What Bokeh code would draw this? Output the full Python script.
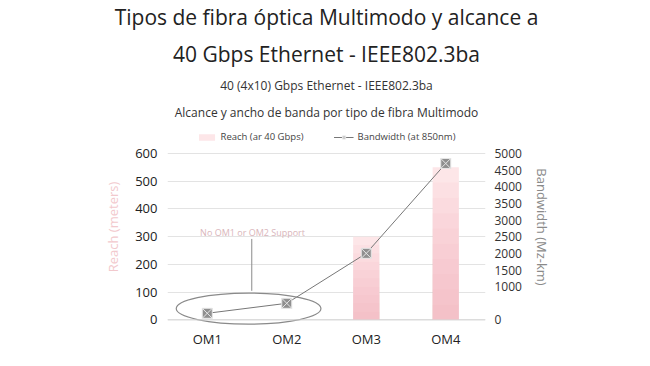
from bokeh.plotting import figure
from bokeh.models import (Range1d, LinearAxis, FixedTicker, Title, Legend, LegendItem,
                          Label, Span)
from bokeh.embed import file_html
from bokeh.resources import INLINE

# ---- data ----
categories = ["OM1", "OM2", "OM3", "OM4"]
reach_m = [0, 0, 300, 550]            # Reach (ar 40 Gbps), meters
bandwidth = [200, 500, 2000, 4700]    # Bandwidth (at 850nm), MHz-km
left_ticks = [0, 100, 200, 300, 400, 500, 600]
right_ticks = [0, 1000, 1500, 2000, 2500, 3000, 3500, 4000, 4500, 5000]

FONT = "Open Sans"
x = [i + 0.5 for i in range(len(categories))]
Y0, Y1 = -20, 690

p = figure(width=634, height=350, output_backend="svg", toolbar_location=None,
           x_range=Range1d(0, 4), y_range=Range1d(Y0, Y1),
           min_border_left=167, min_border_right=149, min_border_top=120,
           min_border_bottom=25)
p.outline_line_color = None
p.background_fill_color = "white"
p.border_fill_color = "white"
p.extra_y_ranges = {"bw": Range1d(Y0 * 5000 / 600, Y1 * 5000 / 600)}

# bars with a soft vertical gradient built from stacked translucent layers
base = p.vbar(x=x, top=reach_m, bottom=0, width=0.33, fill_color="#fde6e8",
              line_color=None)
for k in range(1, 10):
    frac = k / 10
    p.vbar(x=x, top=[r * frac for r in reach_m], bottom=0, width=0.33,
           fill_color="#f3a3ab", fill_alpha=0.075, line_color=None)

# bandwidth line
ln = p.line(x, bandwidth, y_range_name="bw", line_color="#777777", line_width=1)
sc = p.scatter(x, bandwidth, y_range_name="bw", marker="square_x", size=10,
               fill_color="#8f8f8f", line_color="#e6e6e6", line_width=1)

# annotation: ellipse around OM1/OM2 and note
p.ellipse(x=[1.02], y=[41], width=[1.82], height=[112], fill_color=None,
          line_color="#8a8a8a", line_width=1.2)
p.segment(x0=[1.06], y0=[105], x1=[1.06], y1=[292], line_color="#8a8a8a", line_width=1)
p.add_layout(Label(x=1.07, y=314, text="No OM1 or OM2 Support", text_align="center",
                   text_baseline="middle", text_font=FONT, text_font_size="9px",
                   text_color="#d9b5ba"))

# axes
for ax in (p.xaxis, p.yaxis):
    ax.axis_line_color = None
    ax.major_tick_line_color = None
    ax.minor_tick_line_color = None
    ax.major_tick_out = 0
    ax.major_tick_in = 0
    ax.minor_tick_out = 0
    ax.minor_tick_in = 0

p.xaxis.ticker = FixedTicker(ticks=x)
p.xaxis.major_label_overrides = {xi: c for xi, c in zip(x, categories)}
p.xaxis.major_label_text_font = FONT
p.xaxis.major_label_text_font_size = "13px"
p.xaxis.major_label_text_color = "#222222"
p.xaxis.major_label_standoff = 4

p.yaxis.ticker = FixedTicker(ticks=left_ticks)
p.yaxis.major_label_text_font = FONT
p.yaxis.major_label_text_font_size = "13px"
p.yaxis.major_label_text_color = "#222222"
p.yaxis.major_label_standoff = 10
p.yaxis.axis_label = "Reach (meters)"
p.yaxis.axis_label_text_font = FONT
p.yaxis.axis_label_text_font_size = "13px"
p.yaxis.axis_label_text_font_style = "normal"
p.yaxis.axis_label_text_color = "#f2c9cd"
p.yaxis.axis_label_standoff = 10

ra = LinearAxis(y_range_name="bw", ticker=FixedTicker(ticks=right_ticks))
ra.axis_line_color = None
ra.major_tick_line_color = None
ra.minor_tick_line_color = None
ra.major_tick_out = 0
ra.major_tick_in = 0
ra.minor_tick_out = 0
ra.minor_tick_in = 0
ra.major_label_text_font = FONT
ra.major_label_text_font_size = "12px"
ra.major_label_text_color = "#333333"
ra.major_label_standoff = 9
ra.axis_label = "Bandwidth (Mz-km)"
ra.axis_label_text_font = FONT
ra.axis_label_text_font_size = "13px"
ra.axis_label_text_font_style = "normal"
ra.axis_label_text_color = "#8a8a8a"
ra.axis_label_standoff = 8
ra.axis_label_orientation = "vertical"
p.add_layout(ra, "right")

p.xgrid.grid_line_color = None
p.ygrid.ticker = FixedTicker(ticks=left_ticks)
p.ygrid.grid_line_color = "#e3e3e3"
p.add_layout(Span(location=0, dimension="width", line_color="#d6d6d6", line_width=1))

# legend on top of the frame
legend = Legend(items=[LegendItem(label="Reach (ar 40 Gbps)", renderers=[base]),
                       LegendItem(label="Bandwidth (at 850nm)", renderers=[ln, sc])],
                orientation="horizontal", location="top_center",
                label_text_font=FONT, label_text_font_size="9.5px",
                label_text_color="#444444", glyph_width=20, glyph_height=8,
                spacing=30, border_line_color=None, background_fill_alpha=0,
                padding=0, margin=2, label_standoff=4)
p.add_layout(legend)

# titles: p.title is outermost; each later added Title sits further from the plot
p.title.text = "Tipos de fibra óptica Multimodo y alcance a"
p.title.align = "center"
p.title.text_font = FONT
p.title.text_font_size = "21px"
p.title.text_font_style = "normal"
p.title.text_color = "#222222"
p.title.standoff = 0
for txt, size, color, st in [
        ("Alcance y ancho de banda por tipo de fibra Multimodo", "12px", "#333333", 16),
        ("40 (4x10) Gbps Ethernet - IEEE802.3ba", "12px", "#333333", 0),
        ("40 Gbps Ethernet - IEEE802.3ba", "21px", "#222222", 14)]:
    p.add_layout(Title(text=txt, align="center", text_font=FONT, text_font_size=size,
                       text_font_style="normal", text_color=color, standoff=st), "above")

open("out.html", "w").write(file_html(p, INLINE))
